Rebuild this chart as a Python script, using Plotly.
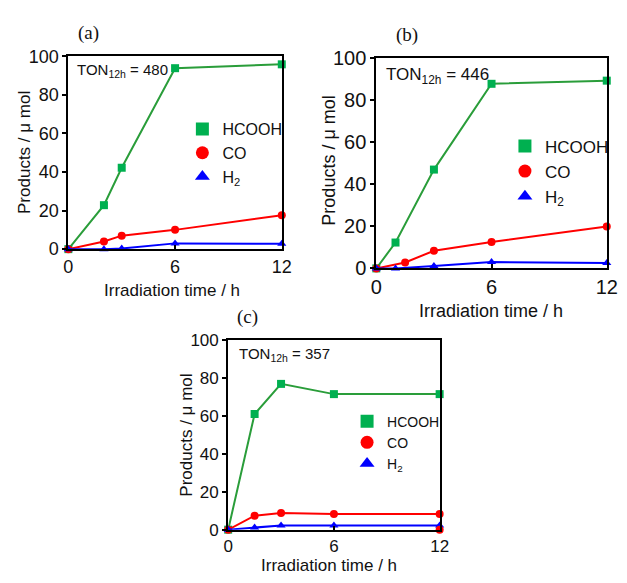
import plotly.graph_objects as go

# ---------------- data ----------------
# panel (a)
a_hcooh_x = [0, 2, 3, 6, 12]
a_hcooh_y = [0, 22.8, 42.2, 93.8, 95.8]
a_co_x = [0, 2, 3, 6, 12]
a_co_y = [0, 4.0, 7.0, 10.0, 17.6]
a_h2_x = [0, 2, 3, 6, 12]
a_h2_y = [0, 0, 0.4, 3.0, 2.8]

# panel (b)
b_hcooh_x = [0, 1, 3, 6, 12]
b_hcooh_y = [0, 12.3, 47.0, 87.8, 89.3]
b_co_x = [0, 1.5, 3, 6, 12]
b_co_y = [0, 2.8, 8.4, 12.6, 19.9]
b_h2_x = [0, 1, 3, 6, 12]
b_h2_y = [0, 0, 1.1, 3.0, 2.6]

# panel (c)
c_hcooh_x = [0, 1.5, 3, 6, 12]
c_hcooh_y = [0, 61.0, 76.9, 71.5, 71.5]
c_co_x = [0, 1.5, 3, 6, 12]
c_co_y = [0, 7.4, 8.8, 8.2, 8.2]
c_co_extra_x = [12]
c_co_extra_y = [0]
c_h2_x = [0, 1.5, 3, 6, 12]
c_h2_y = [0, 1.2, 2.2, 2.2, 2.2]

ton_labels = ["TON<sub>12h</sub> = 480", "TON<sub>12h</sub> = 446", "TON<sub>12h</sub> = 357"]
panel_labels = ["(a)", "(b)", "(c)"]
series_names = ["HCOOH", "CO", "H<sub>2</sub>"]
x_ticks = [0, 6, 12]
y_ticks = [0, 20, 40, 60, 80, 100]
x_title = "Irradiation time / h"
y_title = "Products / μ mol"

# ---------------- styles ----------------
W, H = 627, 583
FONT = "Liberation Sans, Arial, sans-serif"
SERIF = "Liberation Serif, Times New Roman, serif"
G_LINE, G_MARK = "#2a9d3a", "#00b050"
RED, BLUE = "#ff0000", "#0000ff"

def px_x(p):
    return p / W

def px_y(p):
    return 1 - p / H

panels = [
    dict(x0=64, x1=283, y0=47, y1=247.5,
         data=[(a_hcooh_x, a_hcooh_y), (a_co_x, a_co_y), (a_h2_x, a_h2_y)],
         tick=18, title=17, leg=(181, 105, 16), ton=(71, 62, 15), lab=(72, 23),
         ytl=(19, 147), xtl=(170, 290)),
    dict(x0=380, x1=616.5, y0=49, y1=267.5,
         data=[(b_hcooh_x, b_hcooh_y), (b_co_x, b_co_y), (b_h2_x, b_h2_y)],
         tick=20, title=18, leg=(512, 122, 17), ton=(388, 68, 17), lab=(398, 25),
         ytl=(332, 156), xtl=(498, 312)),
    dict(x0=228, x1=445, y0=342, y1=539,
         data=[(c_hcooh_x, c_hcooh_y), (c_co_x, c_co_y), (c_h2_x, c_h2_y)],
         tick=17, title=17, leg=(350, 410, 14), ton=(237, 357, 15), lab=(235, 318),
         ytl=(185, 441), xtl=(331, 576)),
]

fig = go.Figure()
annotations = []
layout = dict(width=W, height=H, margin=dict(l=0, r=0, t=0, b=0), autosize=False,
              paper_bgcolor="white", plot_bgcolor="white",
              font=dict(family=FONT, color="#111111"))

symbols = ["square", "circle", "triangle-up"]
line_colors = [G_LINE, RED, BLUE]
mark_colors = [G_MARK, RED, BLUE]
mark_sizes = [8, 8, 8]

for i, p in enumerate(panels):
    sfx = "" if i == 0 else str(i + 1)
    xa, ya = "x" + sfx, "y" + sfx
    leg = "legend" + sfx
    for k, (xs, ys) in enumerate(p["data"]):
        fig.add_trace(go.Scatter(
            x=xs, y=ys, mode="lines+markers", xaxis=xa, yaxis=ya,
            line=dict(color=line_colors[k], width=2),
            marker=dict(symbol=symbols[k], color=mark_colors[k], size=mark_sizes[k]),
            cliponaxis=False, showlegend=False, hoverinfo="skip"))
    if i == 2:
        fig.add_trace(go.Scatter(
            x=c_co_extra_x, y=c_co_extra_y, mode="markers", xaxis=xa, yaxis=ya,
            marker=dict(symbol="circle", color=RED, size=8),
            cliponaxis=False, showlegend=False, hoverinfo="skip"))
    # legend-only entries (markers only, like the reference)
    for k in range(3):
        fig.add_trace(go.Scatter(
            x=[None], y=[None], mode="markers", xaxis=xa, yaxis=ya,
            name=series_names[k], legend=leg, showlegend=True,
            marker=dict(symbol=symbols[k], color=mark_colors[k], size=13)))
    axis_common = dict(showline=True, linecolor="black", linewidth=2, mirror=True,
                       showgrid=False, zeroline=False,
                       tickfont=dict(family=FONT, size=p["tick"], color="#111111"))
    layout["xaxis" + sfx] = dict(axis_common, domain=[px_x(p["x0"]), px_x(p["x1"])],
                                 anchor=ya, range=[0, 12], tickvals=x_ticks,
                                 ticks="inside", ticklen=4, tickwidth=1.5, tickcolor="black")
    layout["yaxis" + sfx] = dict(axis_common, domain=[px_y(p["y1"]), px_y(p["y0"])],
                                 anchor=xa, range=[0, 100], tickvals=y_ticks,
                                 ticks="outside", ticklen=4, tickwidth=1.5, tickcolor="black")
    lx, ly, lsz = p["leg"]
    layout[leg] = dict(x=px_x(lx), y=px_y(ly), xanchor="left", yanchor="top",
                       bgcolor="rgba(0,0,0,0)", font=dict(family=FONT, size=lsz, color="#111111"),
                       itemwidth=30, tracegroupgap=0)
    tx, ty, tsz = p["ton"]
    annotations.append(dict(x=px_x(tx), y=px_y(ty), xref="paper", yref="paper",
                            text=ton_labels[i], showarrow=False, xanchor="left", yanchor="middle",
                            font=dict(family=FONT, size=tsz, color="#111111")))
    lbx, lby = p["lab"]
    annotations.append(dict(x=px_x(lbx), y=px_y(lby), xref="paper", yref="paper",
                            text=panel_labels[i], showarrow=False, xanchor="left", yanchor="middle",
                            font=dict(family=SERIF, size=19, color="#111111")))
    yx, yy = p["ytl"]
    annotations.append(dict(x=px_x(yx), y=px_y(yy), xref="paper", yref="paper",
                            text=y_title, showarrow=False, textangle=-90,
                            xanchor="center", yanchor="middle",
                            font=dict(family=FONT, size=p["title"], color="#111111")))
    xx, xy = p["xtl"]
    annotations.append(dict(x=px_x(xx), y=px_y(xy), xref="paper", yref="paper",
                            text=x_title, showarrow=False,
                            xanchor="center", yanchor="middle",
                            font=dict(family=FONT, size=p["title"], color="#111111")))

layout["annotations"] = annotations
fig.update_layout(**layout)
fig.write_html("out.html", config={"displayModeBar": False},
               post_script="document.body.style.margin='0';document.body.style.padding='0';")
